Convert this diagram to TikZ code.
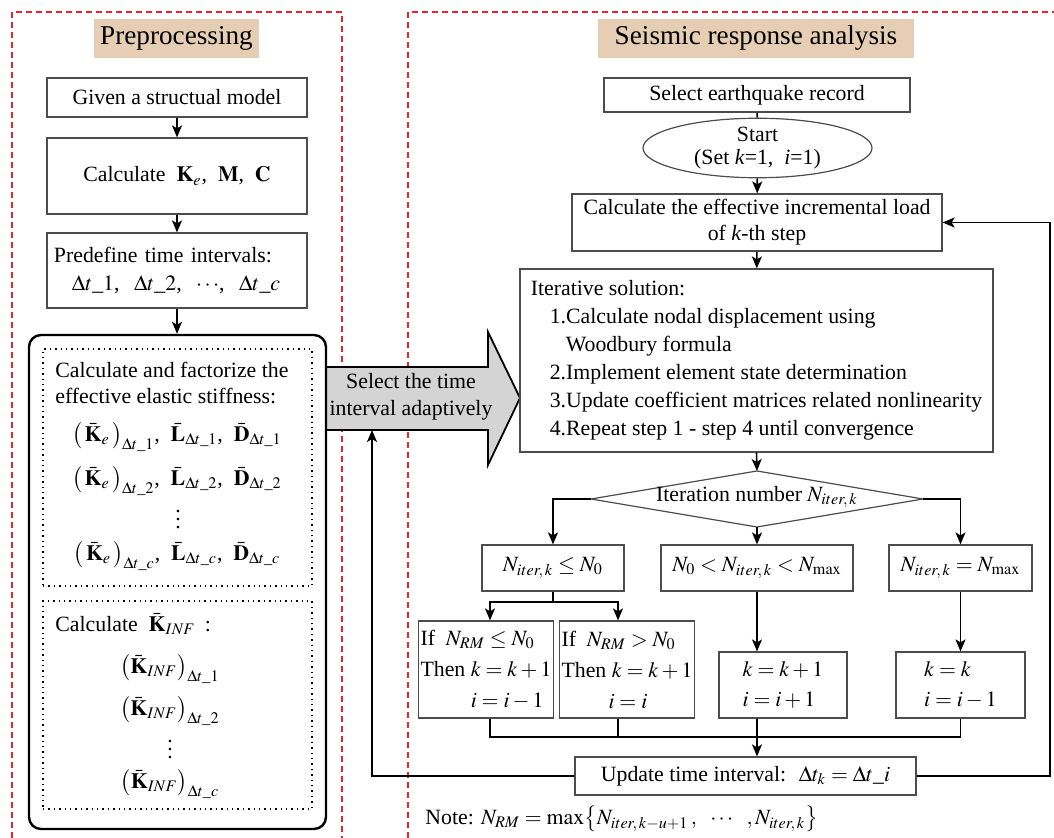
\documentclass[tikz,border=0pt]{standalone}
\usepackage{amsmath}
\usepackage{mathptmx}
\usepackage{fontspec}
\setmainfont{Liberation Serif}
\usetikzlibrary{shapes.geometric,arrows.meta}
\definecolor{titletan}{RGB}{230,206,180}
\definecolor{framered}{RGB}{232,36,44}
\definecolor{arrowgray}{RGB}{212,212,212}
\newcommand{\us}{\text{\_}}

\begin{document}
\begin{tikzpicture}[x=0.5pt,y=-0.5pt,font=\fontsize{10.9}{14}\selectfont]
\tikzset{box/.style={draw=black!70, line width=0.6pt, inner sep=2pt, align=center},
  heading/.style={fill=titletan, minimum height=19.5pt, font=\fontsize{13.6}{16}\selectfont},
  dotbox/.style={draw, dotted, line width=0.7pt},
  panel/.style={draw=framered, line width=1.1pt, dash pattern=on 3pt off 2pt},
  conn/.style={line width=0.8pt, -{Stealth[length=6pt,width=5pt,inset=1.5pt]}},
  link/.style={line width=0.8pt}}
\useasboundingbox (0,0) rectangle (1054,838);

    % the two panels
    \draw[panel] (12,838) -- (12,12) -- (342,12) -- (342,838);
    \draw[panel] (408,838) -- (408,12) -- (1054,12);

    % preprocessing
    \node[heading, minimum width=81.5pt] at (176.5,38.5) (headL) {Preprocessing};
    \node[box, minimum width=130pt, minimum height=19.5pt] at (177,97.5) (model) {Given a structual model};
    \node[box, minimum width=130pt, minimum height=38pt] at (177,176) (mats) {Calculate \ \(\mathbf{K}_e\), \ \(\mathbf{M}\), \ \(\mathbf{C}\)};
    \node[box, minimum width=130pt, minimum height=37.5pt, text width=123pt, align=left] at (177,270.5) (intervals) {Predefine time intervals:\\\hspace*{9pt}\(\Delta t\us1\), \ \(\Delta t\us2\), \ \(\cdots\), \ \(\Delta t\us c\)};

    \draw[fill=arrowgray, line width=0.9pt] (326,367) -- (488,367) -- (488,332) -- (520,398) -- (488,465) -- (488,430) -- (326,430);
    \node[font=\fontsize{10.9}{13.5}\selectfont, align=center] at (411,397) (adapt) {Select the time\\interval adaptively};
    \coordinate (adaptIn) at (372,430);

    \node[draw, line width=1.2pt, rounded corners=6pt, minimum width=148.5pt, minimum height=247pt] at (177.5,582) (factor) {};
    \node[dotbox, minimum width=134.5pt, minimum height=118.5pt] at (177.5,467.5) (stiff) {};
    \node[dotbox, minimum width=134.5pt, minimum height=104pt] at (177.5,705) (infbox) {};

    \node[anchor=west, align=left, inner sep=0pt, font=\fontsize{10.9}{13}\selectfont] at (55,383) (stifftxt) {Calculate and factorize the\\effective elastic stiffness:};
    \node[inner sep=1pt] at (177,437) (rowA) {\(\bigl(\,\bar{\mathbf{K}}_e\,\bigr)_{\Delta t\us1}\), \ \(\bar{\mathbf{L}}_{\Delta t\us1}\), \ \(\bar{\mathbf{D}}_{\Delta t\us1}\)};
    \node[inner sep=1pt] at (177,481) (rowB) {\(\bigl(\,\bar{\mathbf{K}}_e\,\bigr)_{\Delta t\us2}\), \ \(\bar{\mathbf{L}}_{\Delta t\us2}\), \ \(\bar{\mathbf{D}}_{\Delta t\us2}\)};
    \node[inner sep=1pt] at (178,514) (rowdots) {\(\vdots\)};
    \node[inner sep=1pt] at (177,556) (rowC) {\(\bigl(\,\bar{\mathbf{K}}_e\,\bigr)_{\Delta t\us c}\), \ \(\bar{\mathbf{L}}_{\Delta t\us c}\), \ \(\bar{\mathbf{D}}_{\Delta t\us c}\)};

    \node[anchor=west, inner sep=0pt] at (55,624) (inftxt) {Calculate \ \(\bar{\mathbf{K}}_{INF}\) \,:};
    \node[inner sep=1pt] at (170,669) (infA) {\(\bigl(\bar{\mathbf{K}}_{INF}\bigr)_{\Delta t\us1}\)};
    \node[inner sep=1pt] at (170,711) (infB) {\(\bigl(\bar{\mathbf{K}}_{INF}\bigr)_{\Delta t\us2}\)};
    \node[inner sep=1pt] at (170,744) (infdots) {\(\vdots\)};
    \node[inner sep=1pt] at (170,784) (infC) {\(\bigl(\bar{\mathbf{K}}_{INF}\bigr)_{\Delta t\us c}\)};

    % seismic response analysis
    \node[heading, minimum width=158pt] at (756,38.5) (headR) {Seismic response analysis};
    \node[box, minimum width=153pt, minimum height=17pt] at (757,95) (record) {Select earthquake record};
    \node[box, ellipse, inner sep=0pt, minimum width=114.5pt, minimum height=29pt, font=\fontsize{10.9}{11.5}\selectfont] at (757.5,148) (start) {Start\\(Set \textit{k}=1,\enspace\textit{i}=1)};
    \node[box, minimum width=185pt, minimum height=28.5pt, font=\fontsize{10.9}{13}\selectfont] at (757,222.5) (load) {Calculate the effective incremental load\\of \textit{k}-th step};
    \node[box, minimum width=236.5pt, minimum height=91.5pt, align=left] at (756.5,360.5) (iter) {Iterative solution:\\
      \hspace*{9.5pt}1.Calculate nodal displacement using\\
      \hspace*{17.5pt}Woodbury formula\\
      \hspace*{9.5pt}2.Implement element state determination\\
      \hspace*{9.5pt}3.Update coefficient matrices related nonlinearity\\
      \hspace*{9.5pt}4.Repeat step 1 - step 4 until convergence};

    \coordinate (dTop) at (757,471);
    \coordinate (dBot) at (757,527);
    \coordinate (dLeft) at (591,499);
    \coordinate (dRight) at (923,499);
    \draw[draw=black!70, line width=0.6pt] (dTop) -- (dRight) -- (dBot) -- (dLeft) -- cycle;
    \node at (757,497) (count) {Iteration number \(N_{iter,\,k}\)};

    \node[box, minimum width=71pt, minimum height=23pt] at (553,568) (low) {\(N_{iter,\,k}\le N_0\)};
    \node[box, minimum width=96pt, minimum height=23pt] at (757,568) (mid) {\(N_0<N_{iter,\,k}<N_{\max}\)};
    \node[box, minimum width=71.5pt, minimum height=23pt] at (960.5,568) (high) {\(N_{iter,\,k}=N_{\max}\)};

    \node[box, minimum width=65pt, minimum height=48.5pt, align=left, inner sep=1pt, font=\fontsize{10.9}{15.5}\selectfont] at (486,669.5) (lowA) {If \ \(N_{RM}\le N_0\)\\Then \(k=k+1\)\\\phantom{Then }\(i=i-1\)};
    \node[box, minimum width=67pt, minimum height=48.5pt, align=left, inner sep=1pt, font=\fontsize{10.9}{15.5}\selectfont] at (627,669.5) (lowB) {If \ \(N_{RM}>N_0\)\\Then \(k=k+1\)\\\hspace*{23.5pt}\(i=i\)};
    \node[box, minimum width=64pt, minimum height=33pt, align=left, font=\fontsize{10.9}{15}\selectfont] at (783,685) (midA) {\(k=k+1\)\\\(i=i+1\)};
    \node[box, minimum width=64.5pt, minimum height=33pt, align=left, font=\fontsize{10.9}{15}\selectfont] at (960.5,685) (highA) {\(k=k\)\\\(i=i-1\)};

    \node[box, minimum width=170.5pt, minimum height=19pt] at (745.5,776) (update) {Update time interval: \ \(\Delta t_k=\Delta t\us i\)};
    \node[anchor=west, inner sep=0pt] at (425,819) (note) {Note: \(N_{RM}=\max\bigl\{N_{iter,\,k-u+1}\,,\ \ \cdots\ \ ,N_{iter,\,k}\bigr\}\)};

    % connectors
    \draw[conn] (model) -- (mats);
    \draw[conn] (mats) -- (intervals);
    \draw[conn] (intervals.south) -- (intervals.south |- factor.north);
    \draw[link] (record) -- (start);
    \draw[conn] (start) -- (load);
    \draw[conn] (load) -- (iter);
    \draw[conn] (iter.south) -- (dTop);
    \draw[conn] (dLeft) -| (low.north);
    \draw[conn] (dBot) -- (mid.north);
    \draw[conn] (dRight) -| (high.north);
    \coordinate (split) at (553,602);
    \draw[link] (low.south) -- (split);
    \draw[conn] (split) -| ([xshift=2pt]lowA.north);
    \draw[conn] (split) -| ([xshift=-4.5pt]lowB.north);
    \draw[conn] (mid.south) -- (mid.south |- midA.north);
    \draw[conn] (high) -- (highA);
    \coordinate (merge) at (757,737);
    \draw[link] ([xshift=2pt]lowA.south) |- (merge -| highA.south) -- (highA.south);
    \draw[link] ([xshift=-4.5pt]lowB.south) -- ([xshift=-4.5pt]lowB.south |- merge);
    \draw[link] (midA.south -| merge) -- (merge);
    \draw[conn] (merge) -- (merge |- update.north);
    \draw[conn] (update.west) -| (adaptIn);
    \coordinate (loopR) at (1050,500);
    \draw[conn] (update.east) -| (loopR) |- (load.east);

\end{tikzpicture}
\end{document}
